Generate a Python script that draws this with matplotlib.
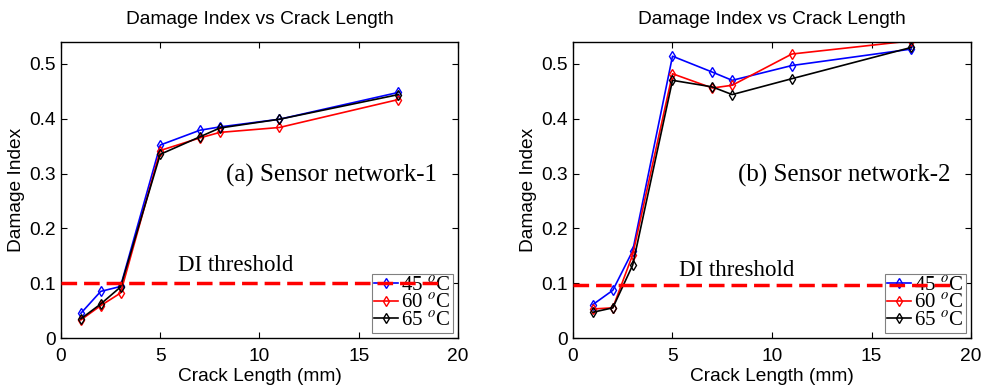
import matplotlib
matplotlib.use("Agg")
import matplotlib.pyplot as plt
from matplotlib.ticker import FuncFormatter

plt.rcParams['font.family'] = ['Liberation Sans', 'DejaVu Sans']
plt.rcParams['mathtext.fontset'] = 'stix'

# Crack length (mm)
crack = [1, 2, 3, 5, 7, 8, 11, 17]

# Sensor network-1
net1_45 = [0.045, 0.085, 0.094, 0.352, 0.379, 0.385, 0.399, 0.448]
net1_60 = [0.033, 0.059, 0.082, 0.342, 0.365, 0.375, 0.384, 0.435]
net1_65 = [0.035, 0.062, 0.093, 0.335, 0.367, 0.383, 0.399, 0.444]

# Sensor network-2
net2_45 = [0.061, 0.087, 0.159, 0.514, 0.485, 0.470, 0.497, 0.527]
net2_60 = [0.053, 0.055, 0.152, 0.482, 0.456, 0.461, 0.518, 0.542]
net2_65 = [0.047, 0.055, 0.133, 0.470, 0.458, 0.444, 0.473, 0.530]

labels = ['45 $^o$C', '60 $^o$C', '65 $^o$C']
colors = ['blue', 'red', 'black']
thresholds = [0.100, 0.097]
panel_names = ['(a) Sensor network-1', '(b) Sensor network-2']
threshold_txt = [(5.9, 0.133), (5.35, 0.124)]

fig = plt.figure(figsize=(9.82, 3.87), dpi=100)
ax1 = fig.add_axes([0.0621, 0.1266, 0.4043, 0.765])
ax2 = fig.add_axes([0.5835, 0.1266, 0.4053, 0.765])

datasets = [(net1_45, net1_60, net1_65), (net2_45, net2_60, net2_65)]

for i, ax in enumerate([ax1, ax2]):
    for serie, cor, lab in zip(datasets[i], colors, labels):
        ax.plot(crack, serie, color=cor, marker='d', markersize=5.5,
                markerfacecolor='none', markeredgewidth=1.0, linewidth=1.2, label=lab)
    # linha do limiar por cima da legenda
    ax.plot([0, 19.2], [thresholds[i], thresholds[i]], color='red',
            linestyle=(0, (4.5, 2)), linewidth=2.5, zorder=6)
    ax.text(threshold_txt[i][0], threshold_txt[i][1], 'DI threshold', family='Liberation Serif',
            fontsize=16.5, va='center', ha='left')
    ax.text(8.3, 0.296, panel_names[i], family='Liberation Serif',
            fontsize=18, va='center', ha='left')
    ax.set_xlim(0, 20)
    ax.set_ylim(0, 0.54)
    ax.set_xticks([0, 5, 10, 15, 20])
    ax.set_yticks([0, 0.1, 0.2, 0.3, 0.4, 0.5])
    ax.yaxis.set_major_formatter(FuncFormatter(lambda v, p: '0' if v == 0 else f'{v:.1f}'))
    ax.tick_params(direction='in', top=True, right=True, length=4, labelsize=13.8)
    ax.tick_params(axis='x', pad=7)
    ax.tick_params(axis='y', pad=4)
    for s in ax.spines.values():
        s.set_linewidth(1.0)
    ax.set_title('Damage Index vs Crack Length', fontsize=13.8, pad=13)
    ax.set_xlabel('Crack Length (mm)', fontsize=13.8, labelpad=2)
    ax.set_ylabel('Damage Index', fontsize=13.8, labelpad=3)
    leg = ax.legend(loc='lower right', prop={'family': 'Liberation Serif', 'size': 15},
                    handlelength=1.15, handletextpad=0.15, labelspacing=-0.1,
                    borderpad=0.1, borderaxespad=0.25, fancybox=False, framealpha=1)
    leg.get_frame().set_edgecolor('gray')
    leg.get_frame().set_linewidth(0.8)

fig.savefig('out.png', dpi=100)
